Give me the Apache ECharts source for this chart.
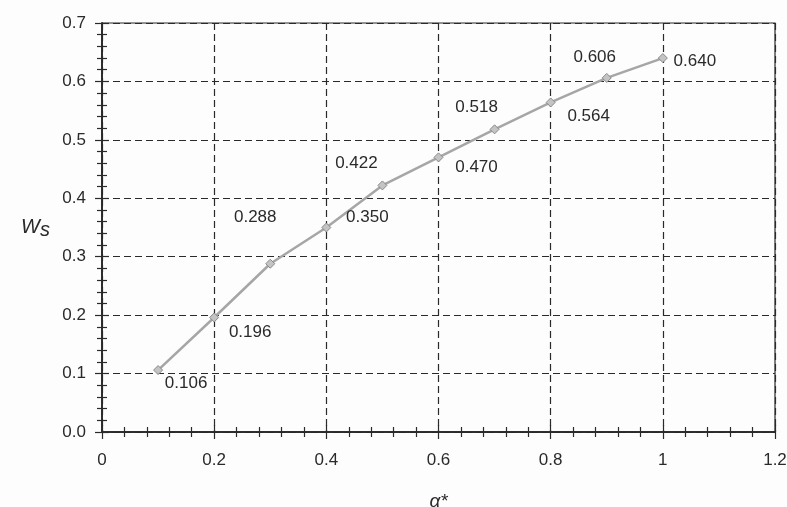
<!DOCTYPE html>
<html>
<head>
<meta charset="utf-8">
<script src="https://cdn.jsdelivr.net/npm/echarts@6/dist/echarts.min.js"></script>
<style>
  html, body { margin: 0; padding: 0; background: #fdfdfd; }
  #chart { width: 787px; height: 507px; }
</style>
</head>
<body>
<div id="chart"></div>
<script>
// data
var alphaValues = [0.1, 0.2, 0.3, 0.4, 0.5, 0.6, 0.7, 0.8, 0.9, 1.0];
var wsValues = [0.106, 0.196, 0.288, 0.350, 0.422, 0.470, 0.518, 0.564, 0.606, 0.640];
var xTicks = [0, 0.2, 0.4, 0.6, 0.8, 1, 1.2];
var yTicks = [0, 0.1, 0.2, 0.3, 0.4, 0.5, 0.6, 0.7];

// where each value label sits relative to its point (px)
var labelOffsets = [
    [28, 13], [36, 15], [-15, -46], [41, -10], [-26, -22],
    [38, 10], [-18, -22], [38, 14], [-12, -21], [32, 3]
];

var fontFam = '"Liberation Sans", Arial, sans-serif';
var ink = '#2a2a2a';

var points = alphaValues.map(function (a, i) {
    return {
        value: [a, wsValues[i]],
        label: { offset: labelOffsets[i] }
    };
});

function axisBase(extra) {
    var base = {
        type: 'value',
        axisLine: { show: true, lineStyle: { color: ink, width: 1.5 } },
        axisTick: { show: true, length: 7, lineStyle: { color: ink, width: 1.2 } },
        minorTick: { show: true, splitNumber: 5, length: 5, lineStyle: { color: ink, width: 1.2 } },
        splitLine: { show: true, lineStyle: { color: ink, width: 1.2, type: [7, 4] } },
        axisLabel: { color: ink, fontSize: 17, fontFamily: fontFam }
    };
    return Object.assign(base, extra);
}

var chart = echarts.init(document.getElementById('chart'));
chart.setOption({
    backgroundColor: '#fdfdfd',
    animation: false,
    grid: {
        left: 102, right: 12, top: 23, bottom: 75,
        outerBoundsMode: 'none',
        containLabel: false,
        show: true, borderColor: ink, borderWidth: 1.2
    },
    xAxis: [
        axisBase({
            min: xTicks[0], max: xTicks[xTicks.length - 1], interval: 0.2,
            name: 'α*', nameLocation: 'middle', nameGap: 60,
            nameTextStyle: { color: ink, fontSize: 19, fontStyle: 'italic', fontFamily: fontFam },
            axisLabel: { color: ink, fontSize: 17, fontFamily: fontFam, margin: 20 }
        }),
        // mirrored ticks so they cross the axis line
        axisBase({
            min: xTicks[0], max: xTicks[xTicks.length - 1], interval: 0.2,
            position: 'bottom',
            axisTick: { show: true, inside: true, length: 7, lineStyle: { color: ink, width: 1.2 } },
            minorTick: { show: true, splitNumber: 5, length: 5, lineStyle: { color: ink, width: 1.2 } },
            axisLabel: { show: false }, splitLine: { show: false }
        })
    ],
    yAxis: [
        axisBase({
            min: yTicks[0], max: yTicks[yTicks.length - 1], interval: 0.1,
            name: '{w|W}{s|s}', nameLocation: 'middle', nameRotate: 0, nameGap: 52,
            nameTextStyle: {
                rich: {
                    w: { fontSize: 20, fontStyle: 'italic', color: ink, fontFamily: fontFam },
                    s: { fontSize: 20, fontStyle: 'italic', color: ink, fontFamily: fontFam, padding: [6, 0, 0, 0] }
                }
            },
            axisLabel: {
                color: ink, fontSize: 17, fontFamily: fontFam, margin: 16,
                formatter: function (v) { return v.toFixed(1); }
            }
        }),
        axisBase({
            min: yTicks[0], max: yTicks[yTicks.length - 1], interval: 0.1,
            position: 'left',
            axisTick: { show: true, inside: true, length: 7, lineStyle: { color: ink, width: 1.2 } },
            minorTick: { show: true, splitNumber: 5, length: 5, lineStyle: { color: ink, width: 1.2 } },
            axisLabel: { show: false }, splitLine: { show: false }
        })
    ],
    series: [{
        type: 'line',
        data: points,
        symbol: 'diamond',
        symbolSize: 9,
        itemStyle: { color: '#c4c4c4', borderColor: '#8a8a8a', borderWidth: 1 },
        lineStyle: { color: '#a6a6a6', width: 2.5 },
        label: {
            show: true,
            position: 'inside',
            color: ink,
            fontSize: 17,
            fontFamily: fontFam,
            formatter: function (p) { return p.value[1].toFixed(3); }
        },
        z: 5
    }]
});
</script>
</body>
</html>
